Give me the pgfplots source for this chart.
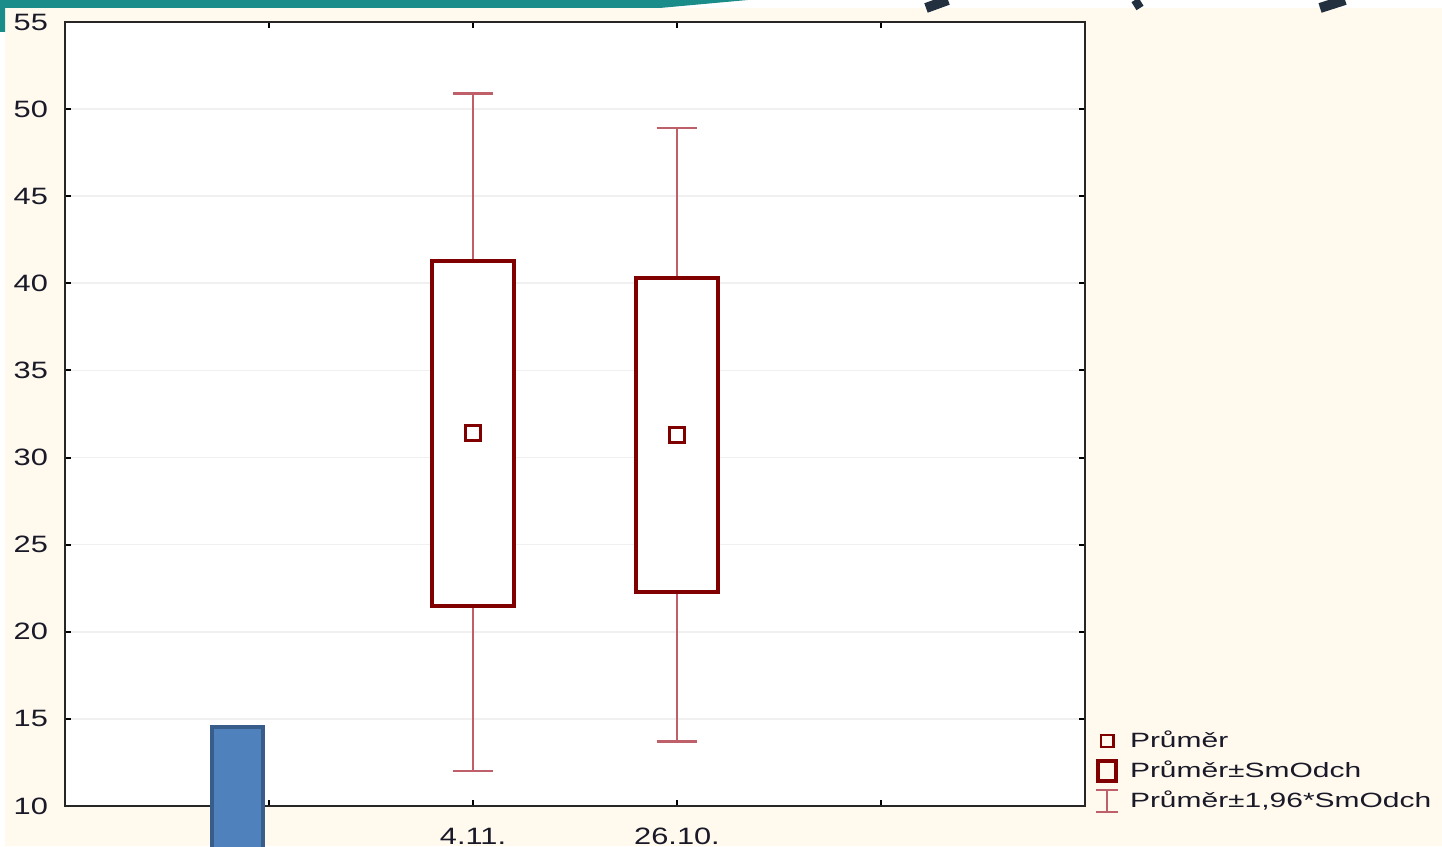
\documentclass[border=0pt]{standalone}
\usepackage{pgfplots}
\pgfplotsset{compat=1.18}
\usepgfplotslibrary{statistics}
\usepackage{fontspec}
\setmainfont{Liberation Sans}
\newfontfamily\tickfont[FakeStretch=1.3]{Liberation Sans}
\newfontfamily\legfont[FakeStretch=1.45]{Liberation Sans}
\definecolor{cream}{RGB}{255,249,238}
\definecolor{slideteal}{RGB}{26,140,138}
\definecolor{slidenavy}{RGB}{35,48,64}
\definecolor{boxred}{RGB}{128,0,0}
\definecolor{whiskred}{RGB}{190,95,105}
\definecolor{barblue}{RGB}{79,129,189}
\definecolor{bardark}{RGB}{56,93,138}
\definecolor{labelink}{RGB}{25,25,40}

\begin{document}
\begin{tikzpicture}
\useasboundingbox (0,0) rectangle (432.6pt,253.8pt);
\clip (0,0) rectangle (432.6pt,253.8pt);
% slide background, 1 px = 0.3pt
\begin{scope}[x=0.3pt,y=0.3pt]
\fill[white] (0,0) rectangle (1442,846);
\fill[cream] (5,0) rectangle (1442,838);
\fill[slideteal] (0,846) -- (0,814) -- (5,814) -- (5,838) -- (660,838) -- (748,846) -- cycle;
\draw[slidenavy, line width=3pt] (926,838) -- (948,846);
\draw[slidenavy, line width=2.5pt] (1140,838) -- (1135,846);
\draw[slidenavy, line width=3pt] (1320,838) -- (1345,846);
\end{scope}
\begin{axis}[
    at={(19.5pt,12pt)}, anchor=south west,
    scale only axis,
    width=306pt, height=235.2pt,
    clip=false,
    axis background/.style={fill=white},
    boxplot/draw direction=y,
    xmin=0, xmax=5,
    ymin=10, ymax=55,
    xtick={1,2,3,4},
    xticklabels={,4.11.,26.10.,},
    ytick={10,15,...,55},
    tick align=inside,
    xtick pos=both, ytick pos=both,
    ticklabel pos=left,
    major tick length=1.8pt,
    tick style={black, line width=0.6pt},
    axis line style={black!85, line width=0.8pt},
    ymajorgrids,
    grid style={black!6, line width=0.5pt},
    /pgf/number format/assume math mode=true,
    ticklabel style={font=\fontsize{7.1}{8.5}\selectfont\tickfont, text=labelink},
    yticklabel style={xshift=-1.6pt},
    xticklabel style={yshift=-3pt},
    legend cell align=left,
    legend style={
        at={(1.0098,0.098)}, anchor=north west,
        draw=none, fill=none, inner sep=0pt, outer sep=0pt,
        font=\fontsize{6.2}{7}\selectfont\legfont,
        text=labelink,
        row sep=1.7pt, column sep=3.2pt,
        nodes={inner sep=0pt, text height=5pt, text depth=1.3pt},
    },
]
% whiskers (mean +- 1.96 SD) and boxes (mean +- SD)
\addplot[forget plot, draw=boxred, boxplot prepared={
    draw position=2,
    lower whisker=12.0, lower quartile=21.5, median=31.4,
    upper quartile=41.3, upper whisker=50.9,
    box extend=0.4, whisker extend=0.2,
    every box/.style={draw=boxred, line width=1.2pt, fill=white},
    every whisker/.style={draw=whiskred, line width=0.7pt},
    every median/.style={draw=none}
}] coordinates {};
\addplot[forget plot, draw=boxred, boxplot prepared={
    draw position=3,
    lower whisker=13.7, lower quartile=22.3, median=31.3,
    upper quartile=40.3, upper whisker=48.9,
    box extend=0.4, whisker extend=0.2,
    every box/.style={draw=boxred, line width=1.2pt, fill=white},
    every whisker/.style={draw=whiskred, line width=0.7pt},
    every median/.style={draw=none}
}] coordinates {};
% means
\addplot[forget plot, only marks, mark=square, mark size=2.25pt,
    mark options={draw=boxred, line width=0.8pt, fill=none}]
    coordinates {(2,31.4) (3,31.3)};
% slide overlay bar
\addplot[forget plot, fill=barblue, draw=bardark, line width=1.2pt]
    coordinates {(0.72,6) (0.72,14.53) (0.971,14.53) (0.971,6)} -- cycle;
% legend
\addlegendimage{legend image code/.code={
    \path[draw=none, fill=none] (0pt,-3.6pt) rectangle (6.6pt,3.6pt);
    \draw[boxred, line width=0.7pt, fill=none] (1.4pt,-1.8pt) rectangle (5.2pt,1.8pt);}}
\addlegendentry{Průměr}
\addlegendimage{legend image code/.code={
    \path[draw=none, fill=none] (0pt,-3.6pt) rectangle (6.6pt,3.6pt);
    \draw[boxred, line width=1.3pt, fill=none] (0.6pt,-3pt) rectangle (6pt,3pt);}}
\addlegendentry{Průměr±SmOdch}
\addlegendimage{legend image code/.code={
    \path[draw=none, fill=none] (0pt,-3.6pt) rectangle (6.6pt,3.6pt);
    \draw[whiskred, line width=0.7pt] (0pt,3.3pt) -- (6.6pt,3.3pt);
    \draw[whiskred, line width=0.7pt] (3.3pt,3.3pt) -- (3.3pt,-3.3pt);
    \draw[whiskred, line width=0.7pt] (0pt,-3.3pt) -- (6.6pt,-3.3pt);}}
\addlegendentry{Průměr±1,96*SmOdch}
\end{axis}
\end{tikzpicture}
\end{document}
